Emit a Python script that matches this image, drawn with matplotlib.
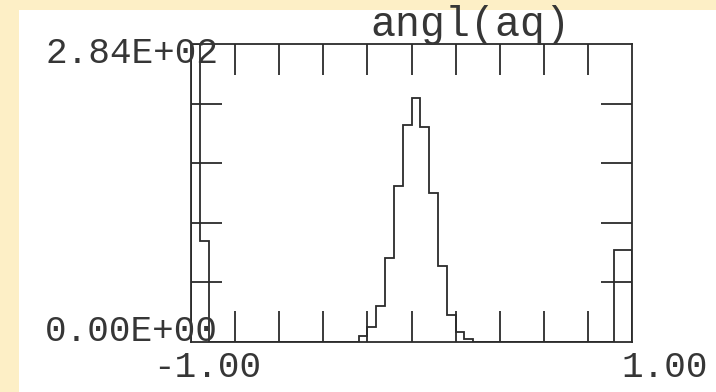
import numpy as np
import matplotlib
matplotlib.use('Agg')
import matplotlib.pyplot as plt
from matplotlib.patches import Rectangle

# histogram of angl(aq): 50 bins over [-1, 1]
x_min, x_max = -1.0, 1.0
counts = [284, 96, 0, 0, 0, 0, 0, 0, 0, 0,
          0, 0, 0, 0, 0, 0, 0, 0, 0, 5,
          14, 34, 80, 148, 207, 232, 205, 142, 72, 25,
          9, 2, 0, 0, 0, 0, 0, 0, 0, 0,
          0, 0, 0, 0, 0, 0, 0, 0, 87, 87]
title = "angl(aq)"
y_labels = ["0.00E+00", "2.84E+02"]
x_labels = ["-1.00", "1.00"]

W, H = 716, 392
ink = '#2b2b2b'
text_ink = '#363636'
mono = 'Liberation Mono'

fig = plt.figure(figsize=(W / 100, H / 100), dpi=100)
fig.patch.set_facecolor('white')

# page border strip (left and top)
fig.patches.append(Rectangle((0, 0), 19 / W, 1, transform=fig.transFigure,
                             facecolor='#fdefc6', edgecolor='none', zorder=0))
fig.patches.append(Rectangle((0, 1 - 10 / H), 1, 10 / H, transform=fig.transFigure,
                             facecolor='#fdefc6', edgecolor='none', zorder=0))

ax = fig.add_axes([191 / W, 50.5 / H, 441 / W, 297.5 / H])
edges = np.linspace(x_min, x_max, len(counts) + 1)
ax.stairs(counts, edges, baseline=0, color=ink, linewidth=1.3)
ax.set_xlim(x_min, x_max)
ax.set_ylim(0, max(counts))

for s in ax.spines.values():
    s.set_color(ink)
    s.set_linewidth(1.3)

ax.set_xticks(np.linspace(x_min, x_max, 11)[1:-1])
ax.set_yticks(np.linspace(0, max(counts), 6)[1:-1])
ax.tick_params(axis='both', direction='in', length=22, width=1.3, color=ink,
               top=True, right=True, labelbottom=False, labelleft=False)


def px_text(x, y, s, size, ha='left'):
    fig.text(x / W, 1 - y / H, s, fontsize=size, family=mono, color=text_ink,
             ha=ha, va='baseline')


px_text(470, 36, title, 30, ha='center')
px_text(45, 63, y_labels[1], 26)
px_text(45, 341, y_labels[0], 26)
px_text(153, 377, x_labels[0], 26)
px_text(665, 377, x_labels[1], 26, ha='center')

fig.savefig('out.png', dpi=100)
